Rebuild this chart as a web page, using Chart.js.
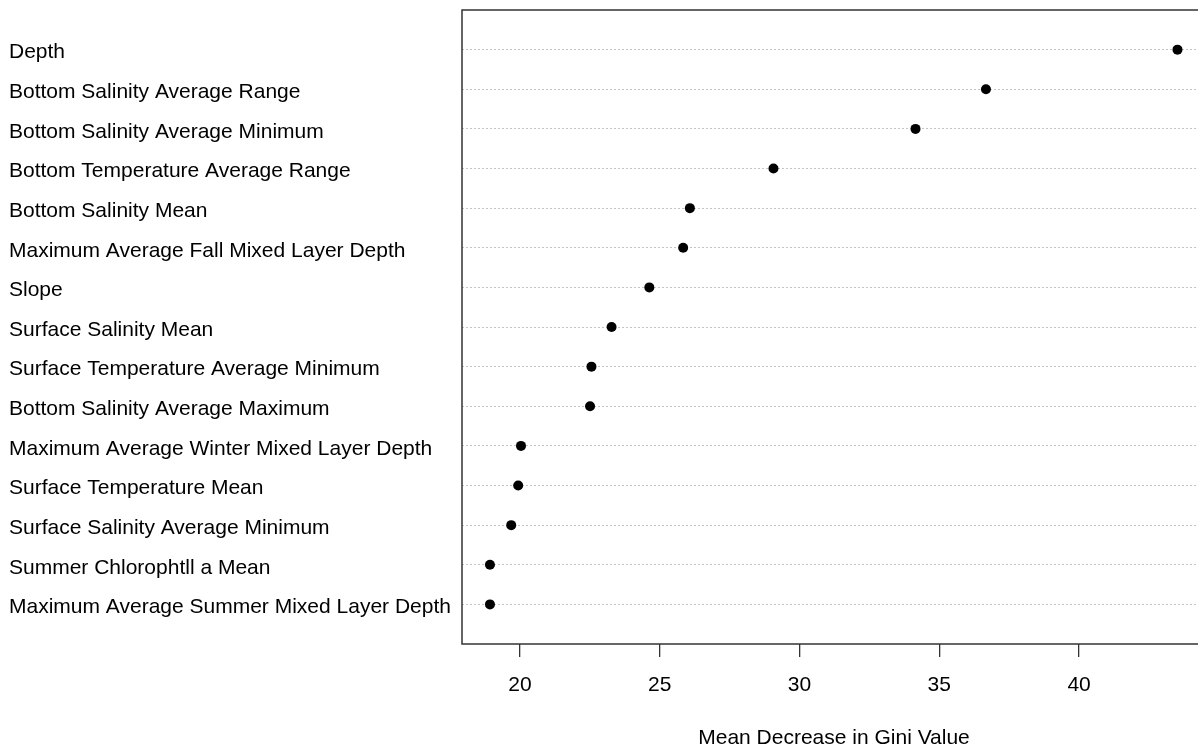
<!DOCTYPE html>
<html>
<head>
<meta charset="utf-8">
<script src="https://cdn.jsdelivr.net/npm/chart.js@4/dist/chart.umd.min.js"></script>
<style>
  html, body { margin: 0; padding: 0; background: #fff; overflow: hidden; }
  #wrap { position: relative; width: 1211px; height: 746px; }
</style>
</head>
<body>
<div id="wrap"><canvas id="c" width="1211" height="746"></canvas></div>
<script>
// ---- data (top to bottom) ----
const categories = [
  "Depth",
  "Bottom Salinity Average Range",
  "Bottom Salinity Average Minimum",
  "Bottom Temperature Average Range",
  "Bottom Salinity Mean",
  "Maximum Average Fall Mixed Layer Depth",
  "Slope",
  "Surface Salinity Mean",
  "Surface Temperature Average Minimum",
  "Bottom Salinity Average Maximum",
  "Maximum Average Winter Mixed Layer Depth",
  "Surface Temperature Mean",
  "Surface Salinity Average Minimum",
  "Summer Chlorophtll a Mean",
  "Maximum Average Summer Mixed Layer Depth"
];
const giniValues = [43.52, 36.67, 34.15, 29.07, 26.08, 25.84, 24.63, 23.28, 22.56, 22.51, 20.04, 19.94, 19.69, 18.93, 18.93];
const xTickValues = [20, 25, 30, 35, 40];
const xAxisTitle = "Mean Decrease in Gini Value";
const xMin = 17.93, xMax = 44.54;

const FONT = "'Liberation Sans', Arial, sans-serif";
const points = giniValues.map((v, i) => ({ x: v, y: i + 1 }));

const framePlugin = {
  id: 'frame',
  afterDraw(chart) {
    const { ctx, chartArea: a } = chart;
    ctx.save();
    ctx.strokeStyle = '#333';
    ctx.lineWidth = 1.5;
    ctx.strokeRect(a.left, a.top, a.right - a.left, a.bottom - a.top);
    ctx.restore();
  }
};

new Chart(document.getElementById('c'), {
  type: 'scatter',
  data: {
    datasets: [{
      data: points,
      pointRadius: 5,
      pointHoverRadius: 5,
      pointBackgroundColor: '#000',
      pointBorderColor: '#000',
      pointBorderWidth: 0,
      showLine: false
    }]
  },
  options: {
    responsive: false,
    animation: false,
    events: [],
    layout: { padding: { left: 9, top: 10, right: 0, bottom: 0 } },
    plugins: { legend: { display: false }, tooltip: { enabled: false } },
    scales: {
      x: {
        type: 'linear',
        position: 'bottom',
        min: xMin,
        max: xMax,
        afterBuildTicks: (s) => { s.ticks = xTickValues.map(v => ({ value: v })); },
        afterFit: (s) => { s.height = 102; s.paddingLeft = 0; s.paddingRight = 0; },
        border: { display: false },
        grid: { drawOnChartArea: false, drawTicks: true, tickLength: 13, color: '#333', lineWidth: 1.3 },
        ticks: { color: '#000', font: { family: FONT, size: 21 }, padding: 16, maxRotation: 0 },
        title: {
          display: true, text: xAxisTitle, color: '#000',
          font: { family: FONT, size: 21, lineHeight: 1 }, padding: { top: 0, bottom: -3 }
        }
      },
      y: {
        type: 'linear',
        position: 'left',
        min: 0,
        max: 16,
        reverse: true,
        afterBuildTicks: (s) => { s.ticks = categories.map((c, i) => ({ value: i + 1 })); },
        afterFit: (s) => { s.width = 453; s.paddingTop = 0; s.paddingBottom = 0; },
        border: { display: false, dash: [2, 2] },
        grid: { drawTicks: false, color: '#c4c4c4', lineWidth: 1 },
        ticks: {
          color: '#000', font: { family: FONT, size: 21 }, crossAlign: 'far', padding: 0,
          labelOffset: 3,
          callback: (v) => categories[v - 1] || ''
        }
      }
    }
  },
  plugins: [framePlugin]
});
</script>
</body>
</html>
